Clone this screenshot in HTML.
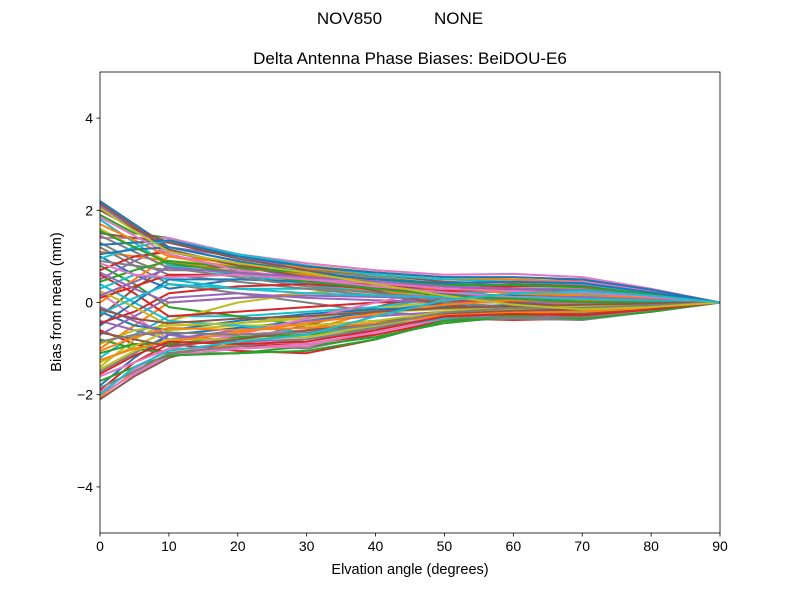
<!DOCTYPE html>
<html><head><meta charset="utf-8">
<style>
body{margin:0;background:#fff;}
svg text{font-family:"Liberation Sans","DejaVu Sans",sans-serif;fill:#000;}
</style></head>
<body>
<svg id="chart" width="800" height="600" xmlns="http://www.w3.org/2000/svg">
<rect width="800" height="600" fill="#fff"/>
<text x="400" y="24" font-size="17" text-anchor="middle" xml:space="preserve">NOV850           NONE</text>
<text x="410" y="64" font-size="17" text-anchor="middle">Delta Antenna Phase Biases: BeiDOU-E6</text>
<defs><clipPath id="clip"><rect x="100" y="72" width="620" height="461"/></clipPath></defs>
<g id="lines" clip-path="url(#clip)"></g>
<g id="axes"></g>
<text x="410" y="574" font-size="14.5" text-anchor="middle">Elvation angle (degrees)</text>
<text transform="translate(61,302) rotate(-90)" font-size="14.5" text-anchor="middle">Bias from mean (mm)</text>
</svg>
<script>
const elevations=[0,5,10,20,30,40,50,60,70,80,90];
const xTicks=[0,10,20,30,40,50,60,70,80,90];
const yTicks=[-4,-2,0,2,4];
const yTickLabels=["\u22124","\u22122","0","2","4"];
const series=[
[2.2,1.7,1.2,0.9,0.6,0.3,0.0,-0.25,-0.3,-0.15,0],
[-2.05,-1.5,-1.1,-0.9,-0.6,-0.2,0.2,0.4,0.4,0.2,0],
[1.9,1.5,1.4,1.0,0.75,0.55,0.4,0.2,0.05,0.0,0],
[-1.9,-1.3,-0.9,-1.05,-1.1,-0.8,-0.35,-0.38,-0.35,-0.2,0],
[2.1,1.6,1.1,0.8,0.5,0.2,-0.1,-0.3,-0.35,-0.2,0],
[-2.1,-1.6,-1.2,-0.8,-0.5,-0.1,0.25,0.45,0.5,0.25,0],
[1.4,1.4,1.4,1.05,0.85,0.7,0.6,0.62,0.55,0.3,0],
[-1.5,-1.1,-0.7,-0.9,-1.0,-0.7,-0.4,-0.35,-0.38,-0.2,0],
[1.6,1.2,0.9,0.8,0.8,0.65,0.55,0.5,0.45,0.25,0],
[-1.2,-0.7,-0.3,-0.3,-0.2,-0.1,0.1,0.3,0.3,0.15,0],
[1.0,0.6,0.3,0.5,0.6,0.5,0.4,0.4,0.35,0.2,0],
[-1.0,-0.5,0.0,0.1,0.2,0.3,0.3,0.2,0.2,0.1,0],
[0.8,0.4,-0.1,-0.3,-0.5,-0.4,-0.3,-0.2,-0.2,-0.1,0],
[-0.6,-0.9,-1.1,-0.95,-0.9,-0.7,-0.4,-0.3,-0.25,-0.15,0],
[0.5,0.9,1.2,1.0,0.7,0.4,0.2,0.1,0.05,0.0,0],
[-0.3,0.3,0.8,0.75,0.6,0.45,0.3,0.3,0.25,0.15,0],
[0.2,-0.3,-0.8,-0.7,-0.6,-0.5,-0.35,-0.2,-0.1,-0.05,0],
[1.2,0.8,0.4,0.2,0.0,-0.2,-0.3,-0.3,-0.25,-0.1,0],
[-1.4,-0.8,-0.4,0.0,0.2,0.35,0.4,0.4,0.3,0.15,0],
[1.8,1.3,0.8,0.6,0.4,0.2,0.1,0.0,-0.05,-0.05,0],
[-1.8,-1.2,-0.7,-0.55,-0.4,-0.2,0.0,0.1,0.15,0.1,0],
[0.0,0.5,1.0,0.85,0.75,0.6,0.5,0.5,0.45,0.25,0],
[-0.8,-1.0,-1.1,-1.1,-0.95,-0.75,-0.45,-0.3,-0.3,-0.2,0],
[0.6,0.2,-0.3,-0.2,-0.1,0.0,0.05,0.05,0.1,0.05,0],
[-0.4,-0.6,-0.8,-0.6,-0.4,-0.3,-0.2,-0.15,-0.1,-0.05,0],
[1.5,1.4,1.3,1.0,0.8,0.6,0.45,0.4,0.35,0.2,0],
[-1.6,-1.3,-1.0,-1.0,-0.9,-0.65,-0.35,-0.25,-0.3,-0.2,0],
[0.9,0.8,0.7,0.7,0.7,0.55,0.35,0.2,0.1,0.05,0],
[-0.9,-0.6,-0.5,-0.45,-0.35,-0.15,0.05,0.15,0.2,0.1,0],
[0.3,0.6,0.5,0.3,0.3,0.25,0.2,0.25,0.2,0.1,0],
[-0.2,-0.5,-0.6,-0.4,-0.25,-0.15,-0.1,-0.05,0.0,0.0,0],
[1.1,1.0,0.9,0.65,0.45,0.25,0.1,0.0,-0.05,-0.05,0],
[-1.1,-0.9,-0.9,-0.75,-0.7,-0.55,-0.3,-0.2,-0.2,-0.1,0],
[0.7,1.0,1.1,0.85,0.55,0.35,0.15,0.05,0.0,0.0,0],
[-0.7,-0.3,0.1,0.2,0.1,0.05,0.0,0.0,0.0,0.0,0],
[2.0,1.6,1.3,0.95,0.7,0.45,0.2,0.0,-0.1,-0.05,0],
[-2.0,-1.55,-1.15,-1.0,-0.95,-0.6,-0.25,-0.2,-0.25,-0.15,0],
[1.3,0.9,0.6,0.45,0.3,0.15,0.0,-0.1,-0.15,-0.1,0],
[-1.3,-0.95,-0.6,-0.5,-0.5,-0.4,-0.2,-0.1,-0.1,-0.05,0],
[0.4,0.0,-0.4,-0.5,-0.65,-0.55,-0.35,-0.25,-0.2,-0.1,0],
[-0.5,0.0,0.5,0.5,0.45,0.35,0.2,0.15,0.1,0.05,0],
[1.7,1.35,1.0,0.75,0.6,0.45,0.3,0.2,0.15,0.1,0],
[-1.7,-1.4,-1.15,-1.1,-1.05,-0.8,-0.4,-0.28,-0.35,-0.2,0],
[0.1,0.35,0.6,0.6,0.5,0.4,0.3,0.35,0.35,0.2,0],
[-0.1,-0.4,-0.7,-0.85,-0.8,-0.6,-0.3,-0.2,-0.15,-0.1,0],
[2.15,1.65,1.15,0.8,0.55,0.25,-0.05,-0.2,-0.25,-0.15,0],
[-1.95,-1.45,-1.0,-0.7,-0.35,0.0,0.3,0.45,0.45,0.25,0],
[1.45,1.1,0.75,0.55,0.35,0.2,0.1,0.05,0.0,0.0,0],
[-1.45,-1.05,-0.8,-0.8,-0.75,-0.5,-0.25,-0.15,-0.15,-0.1,0],
[0.95,1.2,1.35,1.05,0.8,0.6,0.5,0.45,0.4,0.2,0],
[1.25,1.3,1.35,1.0,0.78,0.65,0.55,0.55,0.5,0.28,0],
[-1.25,-1.0,-0.85,-0.65,-0.45,-0.25,-0.05,0.05,0.05,0.03,0],
[0.45,0.7,0.9,0.75,0.65,0.5,0.38,0.38,0.33,0.18,0],
[-0.45,-0.2,0.2,0.35,0.4,0.3,0.25,0.28,0.25,0.12,0],
[0.65,0.3,0.0,0.1,0.15,0.12,0.1,0.12,0.12,0.06,0],
[-0.65,-0.8,-0.95,-0.8,-0.6,-0.45,-0.25,-0.18,-0.15,-0.08,0],
[1.85,1.45,1.05,0.7,0.5,0.35,0.22,0.12,0.08,0.04,0],
[-1.85,-1.5,-1.1,-0.95,-0.8,-0.55,-0.32,-0.33,-0.3,-0.15,0],
[0.25,-0.1,-0.5,-0.45,-0.3,-0.2,-0.15,-0.12,-0.08,-0.04,0],
[-0.25,0.1,0.4,0.3,0.2,0.15,0.12,0.1,0.08,0.04,0],
[1.05,1.15,1.2,0.9,0.65,0.5,0.42,0.45,0.42,0.22,0],
[-1.05,-0.75,-0.55,-0.6,-0.55,-0.45,-0.28,-0.22,-0.2,-0.12,0],
[1.55,1.2,0.85,0.65,0.45,0.3,0.15,0.08,0.02,0.0,0],
[-1.55,-1.15,-0.85,-0.9,-0.85,-0.6,-0.3,-0.25,-0.28,-0.15,0],
[0.15,0.45,0.75,0.65,0.55,0.45,0.35,0.3,0.28,0.15,0],
[-0.15,-0.35,-0.45,-0.35,-0.3,-0.2,-0.12,-0.08,-0.05,-0.02,0],
[0.85,0.6,0.55,0.6,0.5,0.42,0.3,0.25,0.22,0.12,0],
[-0.85,-0.7,-0.65,-0.7,-0.65,-0.48,-0.22,-0.12,-0.12,-0.06,0],
[2.05,1.55,1.1,0.85,0.65,0.4,0.15,-0.05,-0.15,-0.1,0],
[-2.0,-1.4,-1.05,-0.85,-0.7,-0.3,0.05,0.2,0.25,0.15,0]
];
const colors=["#1f77b4","#ff7f0e","#2ca02c","#d62728","#9467bd","#8c564b","#e377c2","#7f7f7f","#bcbd22","#17becf"];
const X0=100,X1=720,Y0=533,Y1=72;
function xs(v){return X0+(v-0)/(90-0)*(X1-X0);}
function ys(v){return Y0-(v+5)/10*(Y0-Y1);}
const NS="http://www.w3.org/2000/svg";
const g=document.getElementById('lines');
series.forEach((s,i)=>{
  const p=document.createElementNS(NS,'polyline');
  
  
  p.setAttribute('points',s.map((v,j)=>xs(elevations[j]).toFixed(1)+','+ys(v).toFixed(1)).join(' '));
  p.setAttribute('fill','none');
  p.setAttribute('stroke',colors[i%10]);
  p.setAttribute('stroke-width','2');
  p.setAttribute('stroke-linejoin','round');
  g.appendChild(p);
});
const ax=document.getElementById('axes');
const frame=document.createElementNS(NS,'rect');


frame.setAttribute('x',X0);frame.setAttribute('y',Y1);
frame.setAttribute('width',X1-X0);frame.setAttribute('height',Y0-Y1);
frame.setAttribute('fill','none');frame.setAttribute('stroke','#000');frame.setAttribute('stroke-width','0.8');
ax.appendChild(frame);
xTicks.forEach(t=>{
  const l=document.createElementNS(NS,'line');
  
  
  l.setAttribute('x1',xs(t));l.setAttribute('x2',xs(t));l.setAttribute('y1',Y0);l.setAttribute('y2',Y0+3.5);
  l.setAttribute('stroke','#000');l.setAttribute('stroke-width','0.8');ax.appendChild(l);
  const tx=document.createElementNS(NS,'text');
  
  
  tx.setAttribute('x',xs(t));tx.setAttribute('y',Y0+18);tx.setAttribute('font-size','14');tx.setAttribute('text-anchor','middle');
  tx.textContent=t;ax.appendChild(tx);
});
yTicks.forEach((t,i)=>{
  const l=document.createElementNS(NS,'line');
  
  
  l.setAttribute('x1',X0-3.5);l.setAttribute('x2',X0);l.setAttribute('y1',ys(t));l.setAttribute('y2',ys(t));
  l.setAttribute('stroke','#000');l.setAttribute('stroke-width','0.8');ax.appendChild(l);
  const tx=document.createElementNS(NS,'text');
  
  
  tx.setAttribute('x',X0-7);tx.setAttribute('y',ys(t)+5);tx.setAttribute('font-size','14');tx.setAttribute('text-anchor','end');
  tx.textContent=yTickLabels[i];ax.appendChild(tx);
});
</script>
</body></html>
